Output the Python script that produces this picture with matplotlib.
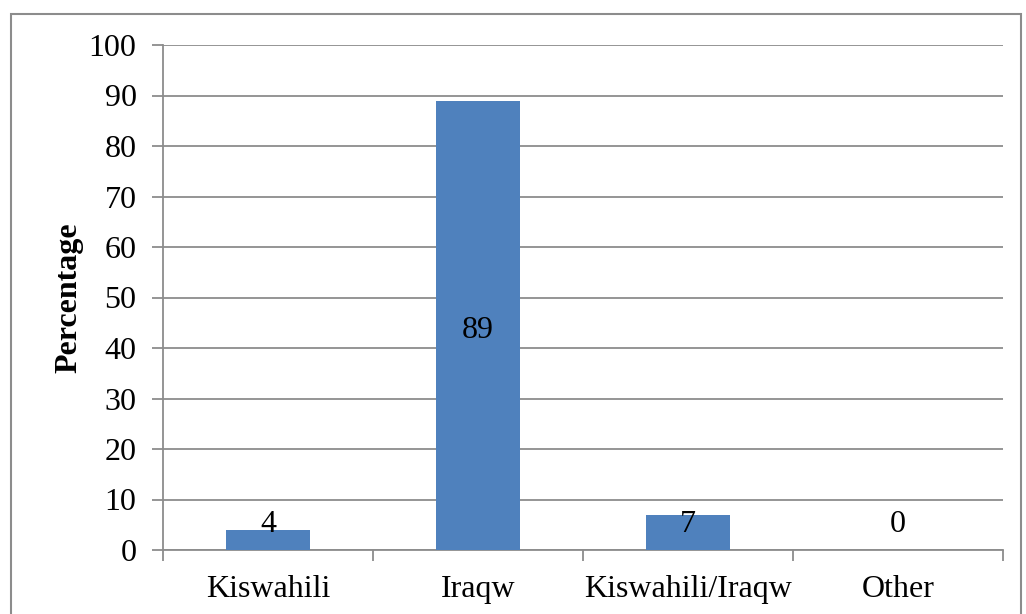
import matplotlib
matplotlib.use("Agg")
import matplotlib.pyplot as plt
from matplotlib.patches import Rectangle

categories = ["Kiswahili", "Iraqw", "Kiswahili/Iraqw", "Other"]
values = [4, 89, 7, 0]
yticks = [0, 10, 20, 30, 40, 50, 60, 70, 80, 90, 100]

plt.rcParams['font.family'] = ['Liberation Serif', 'DejaVu Serif']

W, H = 1026, 614
fig = plt.figure(figsize=(W/100, H/100), dpi=100)
ax = fig.add_axes([163/W, 1-550/H, (1003-163)/W, (550-45)/H])

x = list(range(len(categories)))
ax.bar(x, values, width=0.4, color="#4F81BD", zorder=3)
ax.set_xlim(-0.5, len(categories)-0.5)
ax.set_ylim(0, 100)
ax.set_yticks(yticks)
ax.set_yticklabels([str(t) for t in yticks], fontsize=23)
ax.yaxis.grid(True, color="#8c8c8c", linewidth=1.3, zorder=0)
ax.set_xticks([i - 0.5 for i in range(len(categories)+1)], minor=False)
ax.set_xticklabels([])
ax.set_xticks(x, minor=True)
ax.set_xticklabels(categories, minor=True, fontsize=23)
ax.tick_params(axis='x', which='minor', length=0, pad=18)
ax.tick_params(axis='x', which='major', length=8, color="#8c8c8c", width=1.3)
ax.tick_params(axis='y', length=8, color="#8c8c8c", width=1.3, pad=11)
for s in ["top", "right"]:
    ax.spines[s].set_visible(False)
for s in ["left", "bottom"]:
    ax.spines[s].set_color("#8c8c8c")
    ax.spines[s].set_linewidth(1.3)

for xi, v in zip(x, values):
    y = v / 2 - 1 if v > 20 else 5.1
    ax.text(xi, y, str(v), ha="center", va="center", fontsize=23, zorder=4)

ax.set_ylabel("Percentage", fontsize=23, fontweight="bold", labelpad=4)

fig.patches.append(Rectangle((11/W, -0.05), (1021-11)/W, (614-14)/H + 0.05,
                             transform=fig.transFigure, fill=False,
                             edgecolor="#8c8c8c", linewidth=1.5))
fig.savefig("out.png", dpi=100)
